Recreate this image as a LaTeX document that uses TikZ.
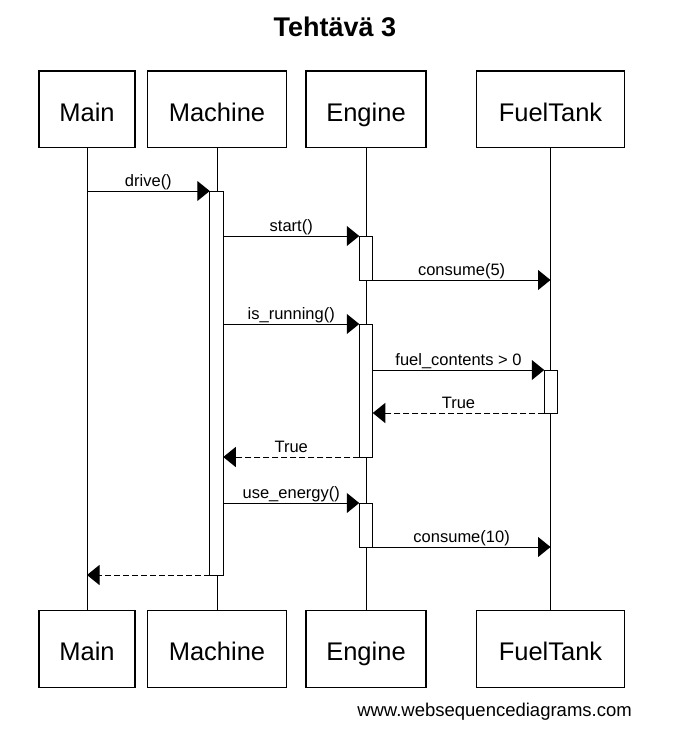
\documentclass[tikz,border=0pt]{standalone}
\usepackage{fontspec}
\setmainfont{Liberation Sans}
\usetikzlibrary{arrows.meta}
\begin{document}
\begin{tikzpicture}[x=1pt,y=-1pt,
  actor/.style={draw,line width=1.2pt,fill=white,inner sep=0pt,outer sep=0pt,minimum height=76.5pt,text height=24pt,text depth=0.5pt,font=\fontsize{25.5}{28}\selectfont},
  act/.style={draw,line width=1pt,fill=white,inner sep=0pt,outer sep=0pt,minimum width=13.5pt},
  life/.style={line width=1pt},
  msg/.style={line width=1pt,-{Triangle[length=12.5pt,width=20pt]}},
  ret/.style={msg,dash pattern=on 6pt off 3pt},
  lbl/.style={font=\fontsize{16.5}{18}\selectfont,anchor=base,inner sep=0pt,yshift=5pt}]
\useasboundingbox (0,0) rectangle (687,731);
\node[font=\bfseries\fontsize{27}{30}\selectfont] (title) at (335,27) {Tehtävä 3};
% actors
\node[actor,minimum width=96pt]  (mainT) at (87,109.25) {Main};
\node[actor,minimum width=139pt] (machT) at (217,109.25) {Machine};
\node[actor,minimum width=120pt] (engT)  at (366,109.25) {Engine};
\node[actor,minimum width=148pt] (fuelT) at (550.5,109.25) {FuelTank};
\node[actor,minimum width=96pt]  (mainB) at (87,649) {Main};
\node[actor,minimum width=139pt] (machB) at (217,649) {Machine};
\node[actor,minimum width=120pt] (engB)  at (366,649) {Engine};
\node[actor,minimum width=148pt] (fuelB) at (550.5,649) {FuelTank};
% lifelines
\draw[life] (mainT) -- (mainB);
\draw[life] (machT) -- (machB);
\draw[life] (engT) -- (engB);
\draw[life] (fuelT) -- (fuelB);
% activations
\node[act,minimum height=384pt,anchor=north] (m1) at (216.5,191) {};
\node[act,minimum height=44pt,anchor=north]  (e1) at (366,236) {};
\node[act,minimum height=133pt,anchor=north] (e2) at (366,324) {};
\node[act,minimum height=43pt,anchor=north]  (f1) at (551,370) {};
\node[act,minimum height=44pt,anchor=north]  (e3) at (366,503) {};
% messages
\draw[msg] (mainT |- m1.north) -- node[lbl]{drive()} (m1.north west);
\draw[msg] (m1.east |- e1.north) -- node[lbl]{start()} (e1.north west);
\draw[msg] (e1.south east) -- node[lbl]{consume(5)} (fuelT |- e1.south);
\draw[msg] (m1.east |- e2.north) -- node[lbl]{is\_running()} (e2.north west);
\draw[msg] (e2.east |- f1.north) -- node[lbl]{fuel\_contents > 0} (f1.north west);
\draw[ret] (f1.south west) -- node[lbl]{True} (e2.east |- f1.south);
\draw[ret] (e2.south west) -- node[lbl]{True} (m1.east |- e2.south);
\draw[msg] (m1.east |- e3.north) -- node[lbl]{use\_energy()} (e3.north west);
\draw[msg] (e3.south east) -- node[lbl]{consume(10)} (fuelT |- e3.south);
\draw[ret] (m1.south west) -- (mainT |- m1.south);
% footer
\node[font=\fontsize{18.5}{20}\selectfont,anchor=base east,inner sep=0pt] (footer) at (632,716) {www.websequencediagrams.com};
\end{tikzpicture}
\end{document}
